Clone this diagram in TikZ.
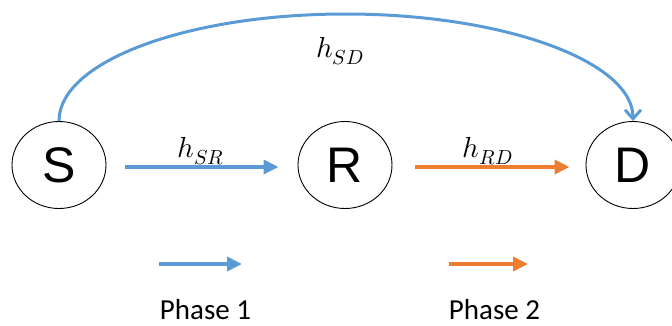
\documentclass[tikz,border=0pt]{standalone}
\usepackage{fontspec}
\usepackage{unicode-math}
\setmathfont{Latin Modern Math}
\newfontfamily\arialf{Liberation Sans}
\newfontfamily\calibrif{Carlito}
\usetikzlibrary{arrows.meta,shapes.geometric}
\definecolor{oblue}{HTML}{5B9BD5}
\definecolor{oorange}{HTML}{ED7D31}
\tikzset{
  station/.style={ellipse, draw=black, line width=0.9pt, minimum width=94pt, minimum height=87pt, inner sep=0pt, font=\arialf\fontsize{50}{50}\selectfont},
  link/.style={line width=4pt, -{Triangle[length=15pt,width=14pt]}},
  mlabel/.style={anchor=base, inner sep=0pt, font=\fontsize{29}{29}\selectfont},
  plabel/.style={anchor=base, inner sep=0pt, font=\calibrif\fontsize{29}{29}\selectfont},
  arcl/.style={line width=3pt, oblue, -{Straight Barb[length=9pt,width=16pt]}}
}
\begin{document}
\begin{tikzpicture}[x=1pt,y=-1pt]
\useasboundingbox (0,0) rectangle (672,325);
\clip (0,0) rectangle (672,325);
\node[station] (S) at (59,165) {S};
\node[station] (R) at (345,165) {R};
\node[station] (D) at (633,165) {D};
\coordinate (top) at (345.5,14);
\draw[arcl] (S.north) .. controls +(0,-59.6) and +(-158.5,0) .. (top) .. controls +(158.5,0) and +(0,-59.6) .. (D.north);
\draw[link, oblue, shorten <=19pt, shorten >=19pt] ([yshift=-2pt]S.east) -- ([yshift=-2pt]R.west);
\draw[link, oorange, shorten <=23pt, shorten >=16pt] ([yshift=-2pt]R.east) -- ([yshift=-2pt]D.west);
\node[mlabel] (hSD) at (340,57) {$h_{SD}$};
\node[mlabel] (hSR) at (201,157) {$h_{SR}$};
\node[mlabel] (hRD) at (487.5,157) {$h_{RD}$};
\coordinate (p1s) at (159,264);
\coordinate (p1e) at (242,264);
\coordinate (p2s) at (449,264);
\coordinate (p2e) at (528,264);
\draw[link, oblue] (p1s) -- (p1e);
\draw[link, oorange] (p2s) -- (p2e);
\node[plabel] (ph1) at (205.5,319) {Phase 1};
\node[plabel] (ph2) at (494.5,319) {Phase 2};
\end{tikzpicture}
\end{document}
